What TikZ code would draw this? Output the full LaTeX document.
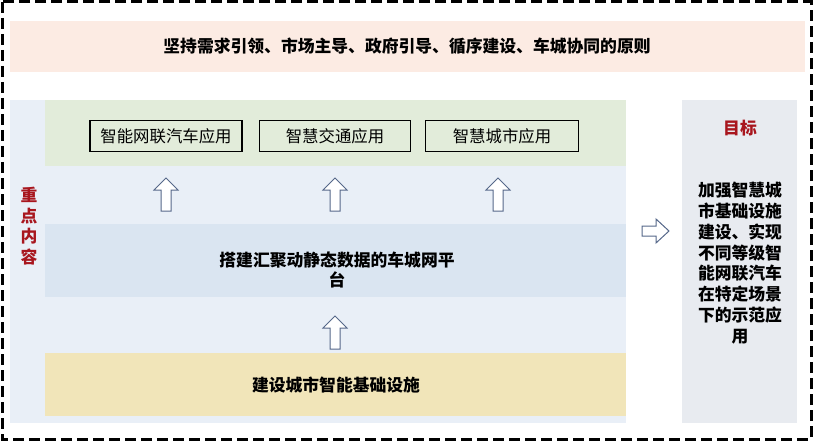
\documentclass[tikz,border=0pt]{standalone}
\usepackage{fontspec}
\setmainfont{Noto Sans CJK SC}
\newfontfamily\cjk{Noto Sans CJK SC}
\definecolor{pinkbg}{HTML}{FCEBE3}
\definecolor{greenbg}{HTML}{E2ECDA}
\definecolor{panelbg}{HTML}{E9EFF7}
\definecolor{platbg}{HTML}{DAE5F1}
\definecolor{yellowbg}{HTML}{F1E5B9}
\definecolor{graybg}{HTML}{E8EBF0}
\definecolor{redtxt}{HTML}{A8161E}
\definecolor{arrowline}{HTML}{56688A}
\tikzset{
  appbox/.style={draw=black, line width=1.3pt, fill=greenbg, minimum width=151pt, minimum height=31pt, inner sep=0pt, font=\fontsize{16.4}{20}\selectfont},
  bigtxt/.style={font=\fontsize{16.8}{20.8}\selectfont\bfseries, align=center, inner sep=0pt},
  blockarrow/.style={draw=arrowline, line width=1pt, fill=white, line join=miter},
  pics/uparrow/.style={code={
    \draw[blockarrow] (-5,33) -- (-5,12) -- (-12,12) -- (0,0) -- (12,12) -- (5,12) -- (5,33) -- cycle;
  }},
  pics/rightarrow/.style={code={
    \draw[blockarrow] (0,-5) -- (14,-5) -- (14,-12) -- (27,0) -- (14,12) -- (14,5) -- (0,5) -- cycle;
  }}
}
\begin{document}
\begin{tikzpicture}[x=1pt,y=-1pt]
\useasboundingbox (0,0) rectangle (814,441);
\fill[white] (0,0) rectangle (814,441);
% top band
\fill[pinkbg] (10,21) rectangle (805,72);
\node[bigtxt] (principle) at (407,46) {坚持需求引领、市场主导、政府引导、循序建设、车城协同的原则};
% left panel
\fill[panelbg] (10,100) rectangle (626,423);
\fill[greenbg] (45,100) rectangle (626,166);
\fill[platbg] (45,224) rectangle (626,297);
\fill[yellowbg] (45,353) rectangle (626,416);
% vertical label
\node[bigtxt, text=redtxt] (focus) at (29,226) {重\\点\\内\\容};
% app boxes
\node[appbox, minimum width=152pt] (app1) at (166,136) {智能网联汽车应用};
\node[appbox] (app2) at (335,136) {智慧交通应用};
\node[appbox, minimum width=153pt] (app3) at (502,136) {智慧城市应用};
% arrows
\pic at (166,178) {uparrow};
\pic at (335,178) {uparrow};
\pic at (498,178) {uparrow};
\pic at (335,316) {uparrow};
% platform text
\node[bigtxt] (platform) at (337,270) {搭建汇聚动静态数据的车城网平\\台};
\node[bigtxt] (infra) at (336,385) {建设城市智能基础设施};
% right arrow
\pic at (642,231) {rightarrow};
% right panel
\fill[graybg] (682,100) rectangle (797,423);
\node[bigtxt, text=redtxt] (goal) at (740,128) {目标};
\node[bigtxt, anchor=north] (goaltext) at (740,182) {加强智慧城\\市基础设施\\建设、实现\\不同等级智\\能网联汽车\\在特定场景\\下的示范应\\用};
% outer dashed border
\draw[black, line width=3pt, dash pattern=on 11pt off 5pt] (2,2) rectangle (811,439);
\end{tikzpicture}
\end{document}
